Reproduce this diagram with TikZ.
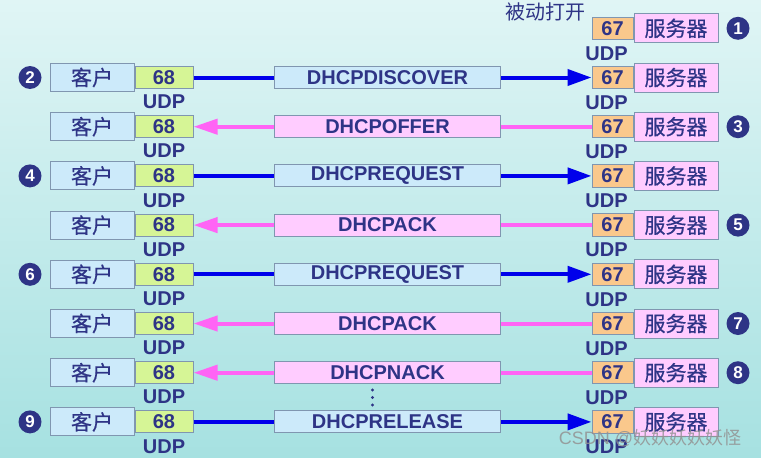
\documentclass[tikz,border=0pt]{standalone}
\usepackage{fontspec}
\setmainfont{Liberation Sans}
\newfontfamily\cjk{Noto Sans CJK SC}
\newfontfamily\cjkbox{Noto Sans CJK SC}[FakeBold=0.5]
\usetikzlibrary{positioning,arrows.meta}

\definecolor{ink}{RGB}{46,52,134}
\definecolor{edge}{RGB}{128,150,176}
\definecolor{cliblue}{RGB}{204,234,250}
\definecolor{portgreen}{RGB}{214,245,150}
\definecolor{portorange}{RGB}{250,200,140}
\definecolor{srvpink}{RGB}{255,204,255}
\definecolor{linkblue}{RGB}{0,0,235}
\definecolor{linkpink}{RGB}{255,100,245}
\definecolor{bgtop}{RGB}{224,245,245}
\definecolor{bgbottom}{RGB}{166,225,225}

\tikzset{
  box/.style={draw=edge, line width=1pt, inner sep=0pt, text=ink,
    font=\fontsize{20}{20}\selectfont\bfseries},
  client/.style={box, fill=cliblue, minimum width=84pt, minimum height=28pt,
    font=\fontsize{21}{21}\selectfont\cjkbox},
  server/.style={box, fill=srvpink, minimum width=84pt, minimum height=29pt,
    font=\fontsize{21}{21}\selectfont\cjkbox},
  port68/.style={box, fill=portgreen, minimum width=58pt, minimum height=22pt},
  port67/.style={box, fill=portorange, minimum width=41pt, minimum height=22.5pt},
  fwd box/.style={box, fill=cliblue, minimum width=226pt, minimum height=22pt},
  back box/.style={box, fill=srvpink, minimum width=226pt, minimum height=22pt},
  fwd line/.style={linkblue, line width=4pt, -{Triangle[length=24pt,width=16pt]}},
  back line/.style={linkpink, line width=4pt, {Triangle[length=24pt,width=15pt]}-},
  udp/.style={inner sep=0pt, text=ink, font=\fontsize{20}{20}\selectfont\bfseries},
  num/.style={circle, fill=ink, inner sep=0pt, minimum size=23pt, text=white,
    font=\fontsize{17}{17}\selectfont\bfseries}
}

\begin{document}
\begin{tikzpicture}[x=1pt,y=-1pt]
  \shade[top color=bgtop, bottom color=bgbottom] (0,0) rectangle (761,458);
  \useasboundingbox (0,0) rectangle (761,458);

  % server opens port 67
  \node (q0) [port67] at (612.5,28.3) {67};
  \node (s0) [server, right=0pt of q0] {服务器};
  \node (v0) [udp] at ([xshift=-6pt,yshift=-25pt]q0.center) {UDP};
  \node (open) at (545,12) [text=ink, font=\fontsize{20}{20}\selectfont\cjk] {被动打开};

  % message rows
  \foreach \i/\msg/\kind in {1/DHCPDISCOVER/fwd, 2/DHCPOFFER/back, 3/DHCPREQUEST/fwd,
      4/DHCPACK/back, 5/DHCPREQUEST/fwd, 6/DHCPACK/back, 7/DHCPNACK/back, 8/DHCPRELEASE/fwd} {
    \pgfmathsetmacro{\y}{28.3+49.2*\i}
    \node (c\i) [client] at (92,\y) {客户};
    \node (p\i) [port68, right=0pt of c\i] {68};
    \node (u\i) [udp] at ([yshift=-24.5pt]p\i.center) {UDP};
    \node (q\i) [port67] at (612.5,\y) {67};
    \node (s\i) [server, right=0pt of q\i] {服务器};
    \node (v\i) [udp] at ([xshift=-6pt,yshift=-25pt]q\i.center) {UDP};
    \draw[\kind\space line] (p\i.east) -- (q\i.west);
    \node (m\i) [\kind\space box] at (387.5,\y) {\msg};
  }

  % step numbers
  \foreach \k/\i/\x in {1/0/738, 2/1/30, 3/2/738, 4/3/30, 5/4/738,
      6/5/30, 7/6/738, 8/7/738, 9/8/30}
    \node (n\k) [num] at (\x,{28.3+49.2*\i}) {\k};

  % ellipsis between the rows
  \foreach \d in {390,397.5,405}
    \fill[ink] (372.5,\d) circle (1.6pt);

  \node (mark) at (650,438) [text=gray!85, opacity=0.85,
    font=\fontsize{18}{18}\selectfont] {CSDN @{\cjk 妖妖妖妖妖怪}};
\end{tikzpicture}
\end{document}
